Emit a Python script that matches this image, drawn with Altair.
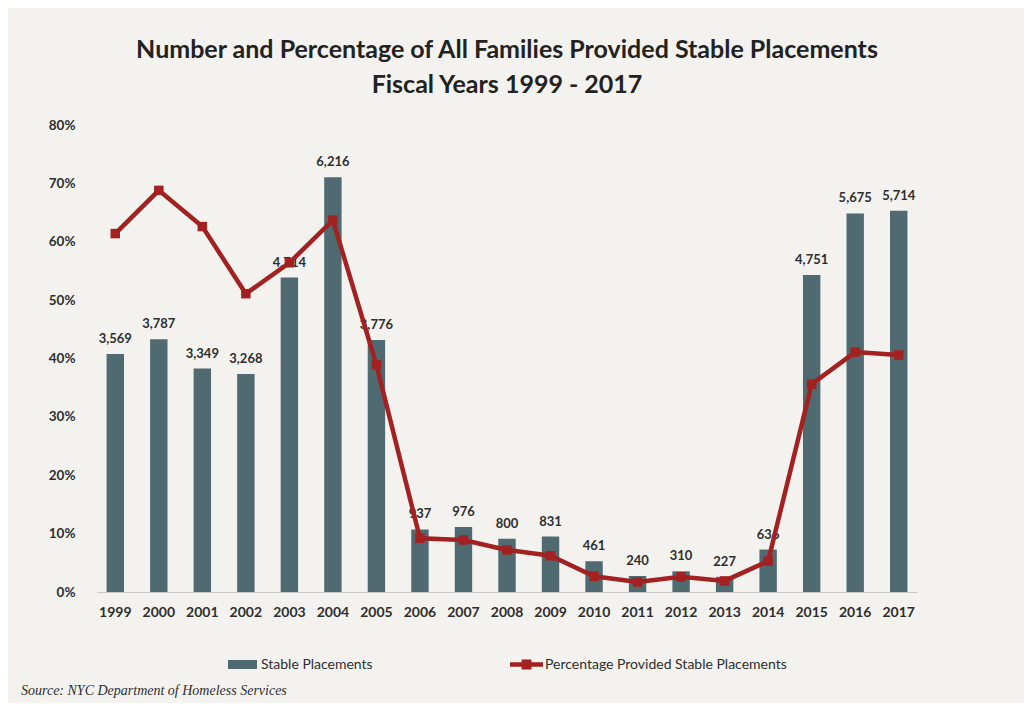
import altair as alt
import pandas as pd

years = [str(y) for y in range(1999, 2018)]
placements = [3569, 3787, 3349, 3268, 4714, 6216, 3776, 937, 976, 800, 831,
              461, 240, 310, 227, 636, 4751, 5675, 5714]
pct = [61.4, 68.8, 62.6, 51.1, 56.4, 63.7, 38.9, 9.2, 8.9, 7.2, 6.2,
       2.7, 1.7, 2.6, 1.9, 5.3, 35.6, 41.1, 40.6]

bar_name = "Stable Placements"
line_name = "Percentage Provided Stable Placements"
title_lines = ["Number and Percentage of All Families Provided Stable Placements",
               "Fiscal Years 1999 - 2017"]
source_note = "Source:  NYC Department of Homeless Services"

BAR_C = "#506a72"
LINE_C = "#a32121"
TXT_C = "#2e2e2e"
BG = "#f4f2ee"
FONT = "Lato"

df = pd.DataFrame({
    "year": years,
    "placements": placements,
    "pct": pct,
    "s1": [bar_name] * len(years),
    "s2": [line_name] * len(years),
})

x_enc = alt.X("year:N", sort=years, title=None,
              scale=alt.Scale(paddingInner=0.6, paddingOuter=0.22),
              axis=alt.Axis(labelAngle=0, labelFont=FONT, labelFontSize=14,
                            labelFontWeight="bold", labelColor=TXT_C,
                            labelPadding=13, ticks=False, domainColor="#c9c9c9",
                            domainWidth=1))

base = alt.Chart(df)

bars = base.mark_bar(color=BAR_C).encode(
    x=x_enc,
    y=alt.Y("placements:Q", title=None,
            scale=alt.Scale(domain=[0, 7000], nice=False),
            axis=alt.Axis(orient="right", values=list(range(0, 7001, 1000)),
                          format=",", labelFont=FONT, labelFontSize=13.5,
                          labelFontWeight="bold", labelColor=TXT_C,
                          labelPadding=18, ticks=False, domain=False, grid=False)),
    color=alt.Color("s1:N", scale=alt.Scale(domain=[bar_name], range=[BAR_C]),
                    legend=alt.Legend(title=None, orient="none", legendX=131, legendY=525,
                                      padding=0, symbolType="M-1,-0.31H1V0.31H-1Z",
                                      symbolSize=841, symbolStrokeWidth=0,
                                      labelFont=FONT, labelFontSize=14, labelColor=TXT_C,
                                      labelOffset=4, labelLimit=400)),
)

labels = base.mark_text(font=FONT, fontSize=13, fontWeight="bold", color=TXT_C,
                        baseline="middle", dy=-15).encode(
    x=alt.X("year:N", sort=years),
    y=alt.Y("placements:Q", scale=alt.Scale(domain=[0, 7000], nice=False), axis=None),
    text=alt.Text("placements:Q", format=","),
)

bar_layer = alt.layer(bars, labels)

line = base.mark_line(strokeWidth=4.5, color=LINE_C,
                      point=alt.OverlayMarkDef(shape="square", size=90, filled=True,
                                               color=LINE_C)).encode(
    x=alt.X("year:N", sort=years),
    y=alt.Y("pct:Q", title=None,
            scale=alt.Scale(domain=[0, 80], nice=False),
            axis=alt.Axis(orient="left", values=list(range(0, 81, 10)),
                          labelExpr="datum.value + '%'", labelFont=FONT,
                          labelFontSize=13.5, labelFontWeight="bold", labelColor=TXT_C,
                          labelPadding=22, ticks=False, domain=False, grid=False)),
    color=alt.Color("s2:N", scale=alt.Scale(domain=[line_name], range=[LINE_C]),
                    legend=alt.Legend(title=None, orient="none", legendX=413, legendY=523,
                                      padding=0,
                                      symbolType="M-1,-0.14H-0.3V-0.3H0.3V-0.14H1V0.14H0.3V0.3H-0.3V0.14H-1Z",
                                      symbolSize=1089, symbolFillColor=LINE_C,
                                      symbolStrokeWidth=0, symbolOpacity=1,
                                      labelFont=FONT, labelFontSize=14, labelColor=TXT_C,
                                      labelOffset=2, labelLimit=400)),
)

src = alt.Chart(pd.DataFrame({"t": [source_note]})).mark_text(
    align="left", baseline="middle", font="Liberation Serif", fontStyle="italic",
    fontSize=14, color=TXT_C).encode(
    x=alt.value(-76), y=alt.value(566), text="t:N")

chart = alt.layer(bar_layer, line, src).resolve_scale(
    y="independent", color="independent"
).properties(
    width=820, height=467,
    title=alt.Title(title_lines, anchor="middle", font=FONT, fontSize=25,
                    fontWeight="bold", color="#222222", lineHeight=35, offset=20),
    background=BG,
    autosize=alt.AutoSizeParams(type="none"),
    padding={"left": 89, "top": 117, "right": 107, "bottom": 111},
).configure_view(stroke="transparent")

chart.save("out.html", embed_options={"renderer": "svg", "actions": False})
